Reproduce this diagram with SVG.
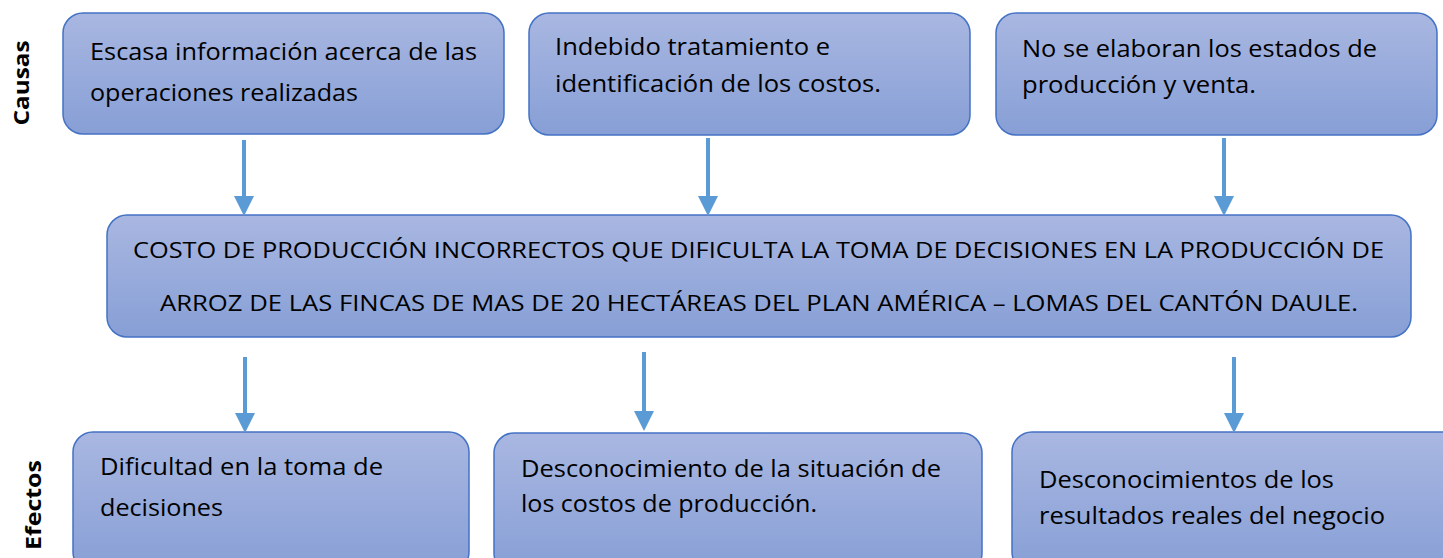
<svg xmlns="http://www.w3.org/2000/svg" width="1443" height="558" viewBox="0 0 1443 558">
<defs>
<linearGradient id="g" x1="0" y1="0" x2="0" y2="1">
<stop offset="0" stop-color="#a9b7e1"/>
<stop offset="1" stop-color="#879fd6"/>
</linearGradient>
<marker id="ah" markerWidth="5" markerHeight="5" refX="2.5" refY="2.5" orient="auto" markerUnits="strokeWidth" viewBox="0 0 5 5">
<path d="M0,0 L5,2.5 L0,5 Z" fill="#5b9bd5"/>
</marker>
<style>
.box{fill:url(#g);stroke:#4472c4;stroke-width:1.5}
.t{font-family:"Open Sans","Liberation Sans",sans-serif;font-size:23px;fill:#000}
.c{font-family:"Open Sans","Liberation Sans",sans-serif;font-size:21.5px;fill:#000}
.lab{font-family:"Open Sans","Liberation Sans",sans-serif;font-size:22px;font-weight:bold;fill:#000}
.arr{stroke:#5b9bd5;stroke-width:4;fill:none;marker-end:url(#ah)}
</style>
</defs>
<text class="lab" transform="translate(29,83) rotate(-90)" text-anchor="middle" textLength="85" lengthAdjust="spacingAndGlyphs">Causas</text>
<text class="lab" transform="translate(41,505) rotate(-90)" text-anchor="middle" textLength="90" lengthAdjust="spacingAndGlyphs">Efectos</text>
<g id="causa1">
<rect class="box" x="63" y="13" width="441" height="121" rx="20"/>
<text class="t" x="90" y="60" textLength="387" lengthAdjust="spacingAndGlyphs">Escasa información acerca de las</text>
<text class="t" x="90" y="101" textLength="268" lengthAdjust="spacingAndGlyphs">operaciones realizadas</text>
</g>
<g id="causa2">
<rect class="box" x="529" y="13" width="441" height="122" rx="20"/>
<text class="t" x="555" y="55" textLength="275" lengthAdjust="spacingAndGlyphs">Indebido tratamiento e</text>
<text class="t" x="555" y="92" textLength="326" lengthAdjust="spacingAndGlyphs">identificación de los costos.</text>
</g>
<g id="causa3">
<rect class="box" x="996" y="13" width="441" height="122" rx="20"/>
<text class="t" x="1022" y="57" textLength="355" lengthAdjust="spacingAndGlyphs">No se elaboran los estados de</text>
<text class="t" x="1022" y="93" textLength="234" lengthAdjust="spacingAndGlyphs">producción y venta.</text>
</g>
<g id="problema">
<rect class="box" x="107" y="215" width="1304" height="122" rx="20"/>
<text class="c" x="133" y="258" textLength="1251" lengthAdjust="spacingAndGlyphs">COSTO DE PRODUCCIÓN INCORRECTOS QUE DIFICULTA LA TOMA DE DECISIONES EN LA PRODUCCIÓN DE</text>
<text class="c" x="160" y="311" textLength="1198" lengthAdjust="spacingAndGlyphs">ARROZ DE LAS FINCAS DE MAS DE 20 HECTÁREAS DEL PLAN AMÉRICA – LOMAS DEL CANTÓN DAULE.</text>
</g>
<g id="efecto1">
<rect class="box" x="73" y="432" width="396" height="140" rx="20"/>
<text class="t" x="100" y="475" textLength="283" lengthAdjust="spacingAndGlyphs">Dificultad en la toma de</text>
<text class="t" x="100" y="516" textLength="123" lengthAdjust="spacingAndGlyphs">decisiones</text>
</g>
<g id="efecto2">
<rect class="box" x="494" y="433" width="488" height="140" rx="20"/>
<text class="t" x="521" y="477" textLength="420" lengthAdjust="spacingAndGlyphs">Desconocimiento de la situación de</text>
<text class="t" x="521" y="512" textLength="296" lengthAdjust="spacingAndGlyphs">los costos de producción.</text>
</g>
<g id="efecto3">
<rect class="box" x="1012" y="432" width="450" height="140" rx="20"/>
<text class="t" x="1039" y="488" textLength="295" lengthAdjust="spacingAndGlyphs">Desconocimientos de los</text>
<text class="t" x="1039" y="524" textLength="346" lengthAdjust="spacingAndGlyphs">resultados reales del negocio</text>
</g>
<g id="conectores">
<line class="arr" x1="244" y1="140" x2="244" y2="206"/>
<line class="arr" x1="708" y1="138" x2="708" y2="206"/>
<line class="arr" x1="1224" y1="138" x2="1224" y2="206"/>
<line class="arr" x1="245" y1="357" x2="245" y2="423"/>
<line class="arr" x1="644" y1="352" x2="644" y2="421"/>
<line class="arr" x1="1234" y1="357" x2="1234" y2="423"/>
</g>
</svg>
